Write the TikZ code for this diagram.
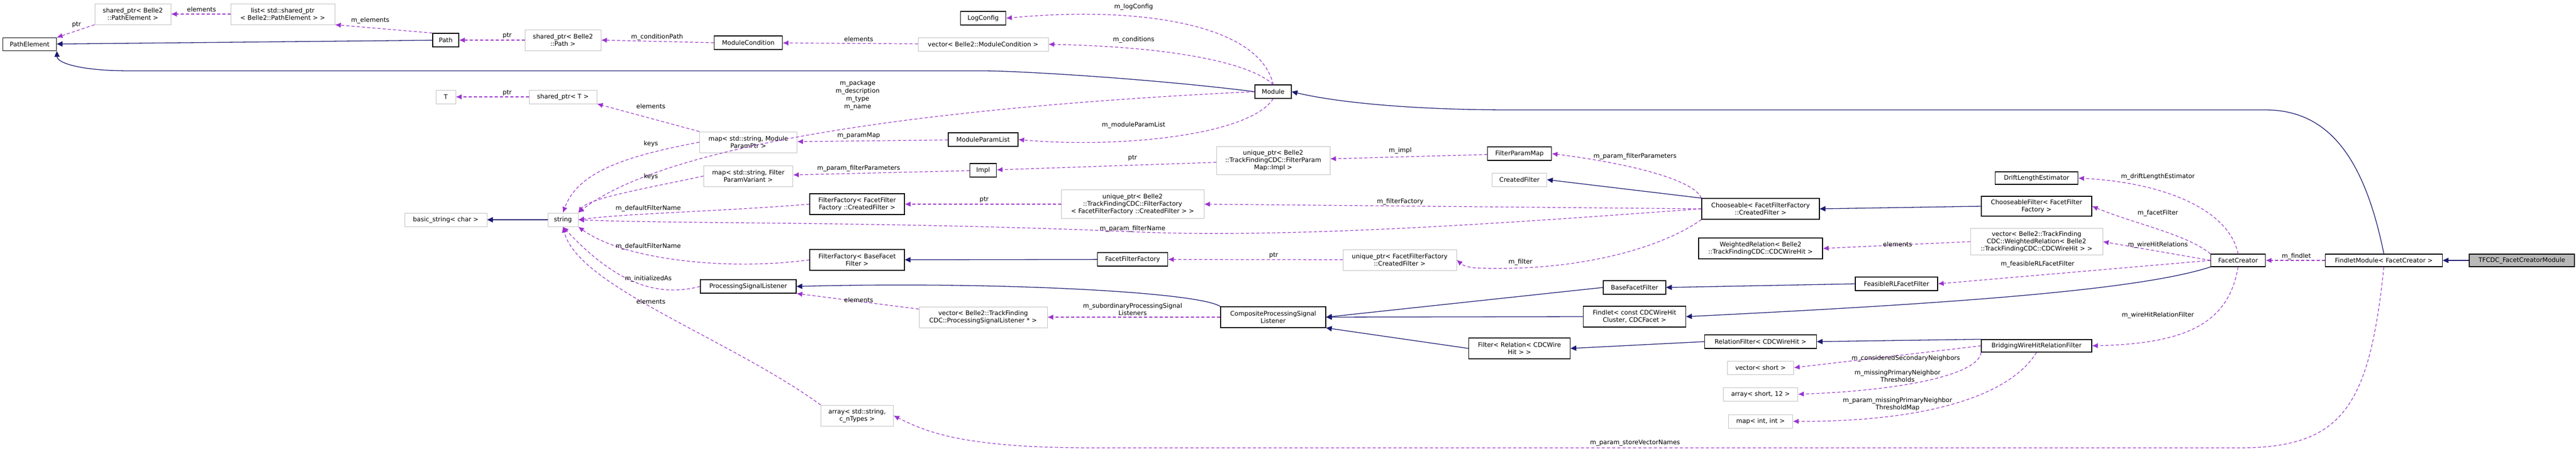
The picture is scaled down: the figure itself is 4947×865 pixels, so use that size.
\documentclass[tikz,border=0pt]{standalone}
\usepackage{fontspec}
\setmainfont{DejaVu Sans}
\usetikzlibrary{arrows.meta}
\definecolor{inhc}{HTML}{191970}
\definecolor{usec}{HTML}{9A32CD}
\definecolor{grayb}{HTML}{BFBFBF}
\begin{document}
\begin{tikzpicture}[x=1pt,y=-1pt,
  font=\fontsize{12}{14}\selectfont,
  doc/.style={draw=black, line width=1.2pt, fill=white, align=center, inner sep=1pt},
  ext/.style={draw=grayb, line width=1pt, fill=white, align=center, inner sep=1pt},
  inh/.style={draw=inhc, line width=1.3pt, -{Triangle[length=11pt,width=10pt]}},
  use/.style={draw=usec, line width=1.2pt, dashed, dash pattern=on 6pt off 4pt, -{Latex[length=11pt,width=10pt]}},
  lab/.style={align=center, inner sep=0pt}]
\useasboundingbox (0,0) rectangle (4947,865);
% nodes
\node[doc,minimum width=103,minimum height=25] (pe) at (57,85) {PathElement};
\node[ext,minimum width=146,minimum height=40] (spe) at (255,27) {shared\_ptr< Belle2\\::PathElement >};
\node[ext,minimum width=200,minimum height=40] (lst) at (543,27) {list< std::shared\_ptr\\< Belle2::PathElement > >};
\node[doc,minimum width=50,minimum height=26] (path) at (856,77) {Path};
\node[ext,minimum width=146,minimum height=40] (spath) at (1081,77) {shared\_ptr< Belle2\\::Path >};
\node[ext,minimum width=38,minimum height=26] (T) at (856,186) {T};
\node[ext,minimum width=130,minimum height=26] (sT) at (1081,186) {shared\_ptr< T >};
\node[ext,minimum width=158,minimum height=26] (bs) at (856,422) {basic\_string< char >};
\node[ext,minimum width=58,minimum height=26] (str) at (1081,422) {string};
\node[doc,minimum width=87,minimum height=26] (logc) at (1888,35) {LogConfig};
\node[doc,minimum width=131,minimum height=26] (mc) at (1437,82) {ModuleCondition};
\node[ext,minimum width=250,minimum height=26] (vmc) at (1888,85) {vector< Belle2::ModuleCondition >};
\node[doc,minimum width=70,minimum height=26] (mod) at (2445,176) {Module};
\node[ext,minimum width=187,minimum height=40] (mmp) at (1437,273) {map< std::string, Module\\ParamPtr >};
\node[doc,minimum width=134,minimum height=26] (mpl) at (1888,268) {ModuleParamList};
\node[ext,minimum width=171,minimum height=40] (mfp) at (1437,338) {map< std::string, Filter\\ParamVariant >};
\node[doc,minimum width=51,minimum height=26] (impl) at (1888,327) {Impl};
\node[ext,minimum width=218,minimum height=54] (uimpl) at (2445,308) {unique\_ptr< Belle2\\::TrackFindingCDC::FilterParam\\Map::Impl >};
\node[doc,minimum width=182,minimum height=40] (ffc) at (1646,392) {FilterFactory< FacetFilter\\Factory ::CreatedFilter >};
\node[ext,minimum width=274,minimum height=55] (uff) at (2175,392) {unique\_ptr< Belle2\\::TrackFindingCDC::FilterFactory\\< FacetFilterFactory ::CreatedFilter > >};
\node[doc,minimum width=182,minimum height=40] (ffb) at (1646,499) {FilterFactory< BaseFacet\\Filter >};
\node[doc,minimum width=135,minimum height=26] (fff) at (2175,498) {FacetFilterFactory};
\node[doc,minimum width=184,minimum height=26] (psl) at (1437,550) {ProcessingSignalListener};
\node[ext,minimum width=246,minimum height=40] (vpsl) at (1888,609) {vector< Belle2::TrackFinding\\CDC::ProcessingSignalListener * >};
\node[doc,minimum width=202,minimum height=40] (cpsl) at (2445,609) {CompositeProcessingSignal\\Listener};
\node[ext,minimum width=139,minimum height=40] (arr) at (1646,798) {array< std::string,\\c\_nTypes >};
\node[doc,minimum width=123,minimum height=26] (fpm) at (2918,295) {FilterParamMap};
\node[ext,minimum width=105,minimum height=26] (cf) at (2918,345) {CreatedFilter};
\node[doc,minimum width=226,minimum height=40] (ch) at (3381,401) {Chooseable< FacetFilterFactory\\::CreatedFilter >};
\node[ext,minimum width=218,minimum height=40] (ucf) at (2688,499) {unique\_ptr< FacetFilterFactory\\::CreatedFilter >};
\node[doc,minimum width=238,minimum height=40] (wr) at (3381,477) {WeightedRelation< Belle2\\::TrackFindingCDC::CDCWireHit >};
\node[doc,minimum width=120,minimum height=26] (bff) at (3139,552) {BaseFacetFilter};
\node[doc,minimum width=158,minimum height=26] (frl) at (3642,545) {FeasibleRLFacetFilter};
\node[doc,minimum width=197,minimum height=40] (fl) at (3139,608) {Findlet< const CDCWireHit\\Cluster, CDCFacet >};
\node[doc,minimum width=195,minimum height=40] (frel) at (2918,669) {Filter< Relation< CDCWire\\Hit > >};
\node[doc,minimum width=215,minimum height=26] (rf) at (3381,656) {RelationFilter< CDCWireHit >};
\node[ext,minimum width=127,minimum height=26] (vs) at (3381,706) {vector< short >};
\node[ext,minimum width=143,minimum height=26] (as) at (3381,757) {array< short, 12 >};
\node[ext,minimum width=123,minimum height=26] (mii) at (3381,809) {map< int, int >};
\node[doc,minimum width=159,minimum height=24] (dle) at (3911,342) {DriftLengthEstimator};
\node[doc,minimum width=212,minimum height=38] (chf) at (3911,396) {ChooseableFilter< FacetFilter\\Factory >};
\node[ext,minimum width=254,minimum height=51] (vwr) at (3911,464) {vector< Belle2::TrackFinding\\CDC::WeightedRelation< Belle2\\::TrackFindingCDC::CDCWireHit > >};
\node[doc,minimum width=105,minimum height=24] (fc) at (4298,500) {FacetCreator};
\node[doc,minimum width=225,minimum height=24] (fm) at (4578,500) {FindletModule< FacetCreator >};
\node[doc,fill=gray!55,minimum width=202,minimum height=24] (tf) at (4843,500) {TFCDC\_FacetCreatorModule};
\node[doc,minimum width=212,minimum height=24] (bw) at (3911,664) {BridgingWireHitRelationFilter};
% inheritance
\draw[inh] (path) -- (pe);
\draw[inh] (mod.west) .. controls (2200,150) and (1950,136) .. (1888,136) -- (250,136) .. controls (150,136) and (110,120) .. (pe.south east);
\draw[inh] (str) -- (bs);
\draw[inh] (fff) -- (ffb);
\draw[inh] (cpsl.north west) .. controls (2300,560) and (1900,540) .. (psl.east);
\draw[inh] (ch.north west) -- (cf.east);
\draw[inh] (chf.west) -- (ch.east);
\draw[inh] (bff.west) -- (cpsl.east);
\draw[inh] (fl.west) -- (cpsl.east);
\draw[inh] (frel.west) -- (cpsl.south east);
\draw[inh] (frl.west) -- (bff.east);
\draw[inh] (fc.south west) .. controls (4100,560) and (3700,585) .. (fl.east);
\draw[inh] (rf.west) -- (frel.east);
\draw[inh] (bw.north west) -- (rf.east);
\draw[inh] (fm.north) .. controls (4540,300) and (4470,211) .. (4350,211) -- (2900,211) .. controls (2700,211) and (2560,195) .. (mod.east);
\draw[inh] (tf) -- (fm);
% usage
\draw[use] (spe.south west) -- (pe.north east);
\draw[use] (lst) -- (spe);
\draw[use] (path.north west) -- (lst.south east);
\draw[use] (spath) -- (path);
\draw[use] (mc.west) -- (spath.east);
\draw[use] (vmc) -- (mc);
\draw[use] (mod.north) .. controls (2400,120) and (2250,90) .. (vmc.east);
\draw[use] (mod.north) .. controls (2420,50) and (2200,10) .. (logc.east);
\draw[use] (mod.west) .. controls (1900,200) and (1300,260) .. (str.north east);
\draw[use] (mod.south) .. controls (2400,260) and (2150,285) .. (mpl.east);
\draw[use] (mpl) -- (mmp);
\draw[use] (mmp.north west) -- (sT.south east);
\draw[use] (sT) -- (T);
\draw[use] (mmp.west) .. controls (1200,300) and (1110,330) .. (str.north);
\draw[use] (mfp.west) .. controls (1250,360) and (1130,380) .. (str.north east);
\draw[use] (impl) -- (mfp);
\draw[use] (uimpl) -- (impl);
\draw[use] (fpm) -- (uimpl);
\draw[use] (ch.north west) .. controls (3250,340) and (3100,310) .. (fpm.east);
\draw[use] (ch.west) -- (uff.east);
\draw[use] (uff) -- (ffc);
\draw[use] (ffc.west) .. controls (1400,405) and (1200,410) .. (str.east);
\draw[use] (ffb.west) .. controls (1400,520) and (1200,500) .. (str.south east);
\draw[use] (ch.west) .. controls (3000,420) and (2500,460) .. (2175,445) .. controls (1700,425) and (1300,430) .. (str.east);
\draw[use] (ch.south west) .. controls (3200,470) and (3050,520) .. (2850,515) .. controls (2820,515) and (2810,510) .. (ucf.east);
\draw[use] (ucf) -- (fff);
\draw[use] (psl.west) .. controls (1250,575) and (1170,530) .. (str.south);
\draw[use] (vpsl) -- (psl.south east);
\draw[use] (cpsl) -- (vpsl);
\draw[use] (arr.north west) .. controls (1400,650) and (1110,550) .. (str.south);
\draw[use] (fm.south) .. controls (4550,780) and (4500,860) .. (4300,860) -- (2100,860) .. controls (1850,860) and (1780,830) .. (arr.east);
\draw[use] (vwr.west) -- (wr.east);
\draw[use] (fc.west) -- (vwr.east);
\draw[use] (fc.north) .. controls (4280,400) and (4150,350) .. (dle.east);
\draw[use] (fc.north west) .. controls (4200,450) and (4100,430) .. (chf.east);
\draw[use] (fc.west) -- (frl.east);
\draw[use] (fc.south) .. controls (4280,620) and (4200,660) .. (bw.east);
\draw[use] (fm) -- (fc);
\draw[use] (bw.west) -- (vs.east);
\draw[use] (bw.south west) .. controls (3800,720) and (3650,750) .. (as.east);
\draw[use] (bw.south) .. controls (3860,760) and (3700,810) .. (mii.east);
% labels
\node[lab] (l1) at (147,48) {ptr};
\node[lab] (l2) at (387,18) {elements};
\node[lab] (l3) at (711,39) {m\_elements};
\node[lab] (l4) at (974,69) {ptr};
\node[lab] (l5) at (1262,71) {m\_conditionPath};
\node[lab] (l6) at (974,179) {ptr};
\node[lab] (l7) at (1250,204) {elements};
\node[lab] (l8) at (1250,276) {keys};
\node[lab] (l9) at (1250,339) {keys};
\node[lab] (l10) at (1245,400) {m\_defaultFilterName};
\node[lab] (l11) at (1245,473) {m\_defaultFilterName};
\node[lab] (l12) at (1245,535) {m\_initializedAs};
\node[lab] (l13) at (1250,579) {elements};
\node[lab] (l14) at (2177,13) {m\_logConfig};
\node[lab] (l15) at (1649,75) {elements};
\node[lab] (l16) at (2177,76) {m\_conditions};
\node[lab,font=\fontsize{12}{15}\selectfont] (l17) at (1647,183) {m\_package\\m\_description\\m\_type\\m\_name};
\node[lab] (l18) at (1649,261) {m\_paramMap};
\node[lab] (l19) at (2177,240) {m\_moduleParamList};
\node[lab] (l20) at (2175,304) {ptr};
\node[lab] (l21) at (1649,323) {m\_param\_filterParameters};
\node[lab] (l22) at (1890,384) {ptr};
\node[lab] (l23) at (2175,439) {m\_param\_filterName};
\node[lab] (l24) at (2446,491) {ptr};
\node[lab] (l25) at (1649,576) {elements};
\node[lab] (l26) at (2175,594) {m\_subordinaryProcessingSignal\\Listeners};
\node[lab] (l27) at (2689,289) {m\_impl};
\node[lab] (l28) at (3140,300) {m\_param\_filterParameters};
\node[lab] (l29) at (2689,387) {m\_filterFactory};
\node[lab] (l30) at (2920,503) {m\_filter};
\node[lab] (l31) at (3644,469) {elements};
\node[lab] (l32) at (3660,688) {m\_consideredSecondaryNeighbors};
\node[lab] (l33) at (3644,722) {m\_missingPrimaryNeighbor\\Thresholds};
\node[lab] (l34) at (3644,776) {m\_param\_missingPrimaryNeighbor\\ThresholdMap};
\node[lab] (l35) at (3140,851) {m\_param\_storeVectorNames};
\node[lab] (l36) at (4144,339) {m\_driftLengthEstimator};
\node[lab] (l37) at (4144,409) {m\_facetFilter};
\node[lab] (l38) at (4144,470) {m\_wireHitRelations};
\node[lab] (l39) at (3913,507) {m\_feasibleRLFacetFilter};
\node[lab] (l40) at (4410,492) {m\_findlet};
\node[lab] (l41) at (4144,605) {m\_wireHitRelationFilter};
\end{tikzpicture}
\end{document}
